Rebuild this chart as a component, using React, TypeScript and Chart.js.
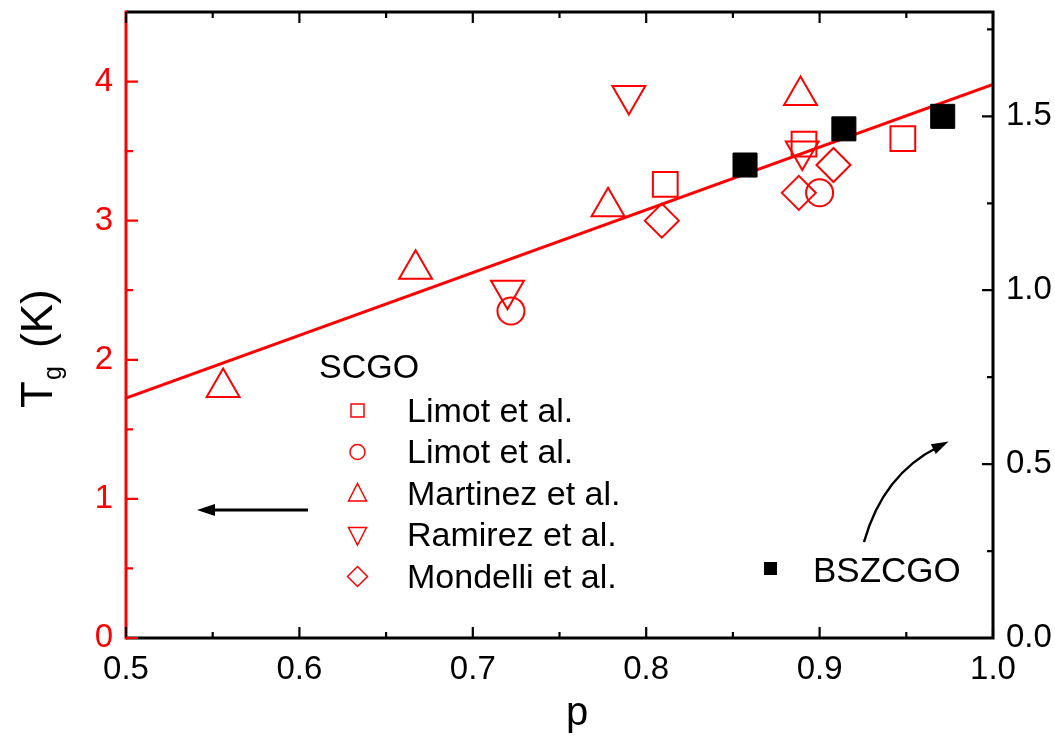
import React, { useEffect, useRef } from 'react';
import { Chart, registerables } from 'chart.js';
Chart.register(...registerables);

const FONT = '"Liberation Sans", Arial, Helvetica, sans-serif';
const RED = '#ff0000';

const xTicks = [0.5, 0.6, 0.7, 0.8, 0.9, 1.0];
const xMinorTicks = [0.55, 0.65, 0.75, 0.85, 0.95];
const leftTicks = [0, 1, 2, 3, 4];
const leftMinorTicks = [0.5, 1.5, 2.5, 3.5];
const rightTicks = [0, 0.5, 1.0, 1.5];
const rightMinorTicks = [0.25, 0.75, 1.25, 1.75];

const limotSquareP = [0.811, 0.891, 0.948];
const limotSquareT = [3.26, 3.55, 3.59];
const limotCircleP = [0.722, 0.9];
const limotCircleT = [2.35, 3.2];
const martinezP = [0.556, 0.667, 0.778, 0.889];
const martinezT = [1.8, 2.65, 3.1, 3.9];
const ramirezP = [0.72, 0.79, 0.89];
const ramirezT = [2.5, 3.9, 3.5];
const mondelliP = [0.809, 0.888, 0.908];
const mondelliT = [3.0, 3.2, 3.4];
const bszcgoP = [0.857, 0.914, 0.971];
const bszcgoT = [3.4, 3.66, 3.75];
const fitP = [0.5, 1.0];
const fitT = [1.724, 3.98];

const legendTitle = 'SCGO';
const legendLabels = ['Limot et al.', 'Limot et al.', 'Martinez et al.', 'Ramirez et al.', 'Mondelli et al.'];
const bszLabel = 'BSZCGO';

const pts = (xs: number[], ys: number[]) => xs.map((x, i) => ({ x, y: ys[i] }));

const decorPlugin = {
  id: 'decor',
  afterDraw(chart: any) {
    const ctx = chart.ctx;
    const { left, right, top, bottom } = chart.chartArea;
    const xs = chart.scales.x;
    const yl = chart.scales.y;
    const yr = chart.scales.y2;
    ctx.save();
    ctx.lineCap = 'butt';
    // frame
    ctx.lineWidth = 3;
    ctx.strokeStyle = '#000';
    ctx.beginPath();
    ctx.moveTo(left, bottom); ctx.lineTo(right + 1.5, bottom);
    ctx.moveTo(left, top); ctx.lineTo(right + 1.5, top);
    ctx.moveTo(right, top); ctx.lineTo(right, bottom + 1.5);
    ctx.stroke();
    ctx.strokeStyle = RED;
    ctx.beginPath();
    ctx.moveTo(left, top - 1.5); ctx.lineTo(left, bottom + 1.5);
    ctx.stroke();
    // x ticks (inward, top and bottom)
    ctx.lineWidth = 2.2;
    ctx.strokeStyle = '#000';
    ctx.beginPath();
    xTicks.forEach((v) => {
      const px = xs.getPixelForValue(v);
      ctx.moveTo(px, bottom); ctx.lineTo(px, bottom - 11);
      ctx.moveTo(px, top); ctx.lineTo(px, top + 11);
    });
    xMinorTicks.forEach((v) => {
      const px = xs.getPixelForValue(v);
      ctx.moveTo(px, bottom); ctx.lineTo(px, bottom - 6);
      ctx.moveTo(px, top); ctx.lineTo(px, top + 6);
    });
    rightTicks.forEach((v) => {
      const py = yr.getPixelForValue(v);
      ctx.moveTo(right, py); ctx.lineTo(right - 11, py);
    });
    rightMinorTicks.forEach((v) => {
      const py = yr.getPixelForValue(v);
      ctx.moveTo(right, py); ctx.lineTo(right - 6, py);
    });
    ctx.stroke();
    ctx.strokeStyle = RED;
    ctx.beginPath();
    leftTicks.forEach((v) => {
      const py = yl.getPixelForValue(v);
      ctx.moveTo(left, py); ctx.lineTo(left + 12, py);
    });
    leftMinorTicks.forEach((v) => {
      const py = yl.getPixelForValue(v);
      ctx.moveTo(left, py); ctx.lineTo(left + 7, py);
    });
    ctx.stroke();

    // axis titles
    ctx.fillStyle = '#000';
    ctx.textBaseline = 'alphabetic';
    ctx.textAlign = 'left';
    ctx.font = `40px ${FONT}`;
    ctx.fillText('p', 566, 725);
    ctx.save();
    ctx.translate(52, 408);
    ctx.rotate(-Math.PI / 2);
    ctx.font = `44px ${FONT}`;
    ctx.fillText('T', 0, 0);
    ctx.font = `25px ${FONT}`;
    ctx.fillText('g', 28, 9);
    ctx.font = `44px ${FONT}`;
    ctx.fillText('(K)', 60, 0);
    ctx.restore();

    // legend
    ctx.font = `34px ${FONT}`;
    ctx.fillStyle = '#000';
    ctx.fillText(legendTitle, 319, 378);
    const sx = 357.5;
    const rows = [421.5, 463, 504.5, 546, 587.5];
    ctx.strokeStyle = RED;
    ctx.lineWidth = 1.5;
    legendLabels.forEach((lab, i) => {
      const cy = rows[i] - 11;
      ctx.beginPath();
      if (i === 0) {
        ctx.rect(sx - 6.5, cy - 6.5, 13, 13);
      } else if (i === 1) {
        ctx.arc(sx, cy, 7.5, 0, Math.PI * 2);
      } else if (i === 2) {
        ctx.moveTo(sx, cy - 10); ctx.lineTo(sx + 9, cy + 7.5); ctx.lineTo(sx - 9, cy + 7.5); ctx.closePath();
      } else if (i === 3) {
        ctx.moveTo(sx, cy + 10); ctx.lineTo(sx + 9, cy - 7.5); ctx.lineTo(sx - 9, cy - 7.5); ctx.closePath();
      } else {
        ctx.moveTo(sx - 10, cy); ctx.lineTo(sx, cy - 10); ctx.lineTo(sx + 10, cy); ctx.lineTo(sx, cy + 10); ctx.closePath();
      }
      ctx.stroke();
      ctx.fillText(lab, 407, rows[i]);
    });
    // BSZCGO legend
    ctx.fillStyle = '#000';
    ctx.fillRect(764, 562, 13, 13);
    ctx.font = `35px ${FONT}`;
    ctx.fillText(bszLabel, 813, 581.5);

    // straight arrow
    ctx.strokeStyle = '#000';
    ctx.lineWidth = 3;
    ctx.beginPath();
    ctx.moveTo(308, 510); ctx.lineTo(210, 510);
    ctx.stroke();
    ctx.beginPath();
    ctx.moveTo(197, 510); ctx.lineTo(215, 504); ctx.lineTo(215, 516); ctx.closePath();
    ctx.fill();
    // curved arrow
    ctx.lineWidth = 2.5;
    ctx.beginPath();
    ctx.moveTo(864, 542);
    ctx.quadraticCurveTo(883, 474.5, 938, 447);
    ctx.stroke();
    const tx = 948.5, ty = 441.5;
    const ang = Math.atan2(-1, 2);
    const hl = 17, hw = 5.5;
    const bx = tx - Math.cos(ang) * hl, by = ty - Math.sin(ang) * hl;
    ctx.beginPath();
    ctx.moveTo(tx, ty);
    ctx.lineTo(bx + Math.sin(ang) * hw, by - Math.cos(ang) * hw);
    ctx.lineTo(bx - Math.sin(ang) * hw, by + Math.cos(ang) * hw);
    ctx.closePath();
    ctx.fill();
    ctx.restore();
  },
};

const zeroPad = (s: any) => {
  s.paddingTop = 0;
  s.paddingBottom = 0;
  s.paddingLeft = 0;
  s.paddingRight = 0;
};

export default function App() {
  const ref = useRef<HTMLCanvasElement | null>(null);
  useEffect(() => {
    if (!ref.current) return;
    const open = 'rgba(0,0,0,0)';
    const chart = new Chart(ref.current, {
      type: 'scatter',
      data: {
        datasets: [
          { label: 'BSZCGO', data: pts(bszcgoP, bszcgoT), pointStyle: 'rect', pointRadius: 17, backgroundColor: '#000', borderColor: '#000', borderWidth: 1 },
          { label: 'Limot sq', data: pts(limotSquareP, limotSquareT), pointStyle: 'rect', pointRadius: 17.5, backgroundColor: open, borderColor: RED, borderWidth: 2 },
          { label: 'Limot circ', data: pts(limotCircleP, limotCircleT), pointStyle: 'circle', pointRadius: 13.5, backgroundColor: open, borderColor: RED, borderWidth: 2 },
          { label: 'Martinez', data: pts(martinezP, martinezT), pointStyle: 'triangle', pointRadius: 19, backgroundColor: open, borderColor: RED, borderWidth: 2 },
          { label: 'Ramirez', data: pts(ramirezP, ramirezT), pointStyle: 'triangle', rotation: 180, pointRadius: 19, backgroundColor: open, borderColor: RED, borderWidth: 2 },
          { label: 'Mondelli', data: pts(mondelliP, mondelliT), pointStyle: 'rectRot', pointRadius: 17, backgroundColor: open, borderColor: RED, borderWidth: 2 },
          { type: 'line', label: 'fit', data: pts(fitP, fitT), borderColor: RED, borderWidth: 3, pointRadius: 0, fill: false, showLine: true },
        ] as any,
      },
      options: {
        animation: false,
        responsive: false,
        layout: { autoPadding: false, padding: { top: 12, left: 0, right: 0, bottom: 0 } },
        plugins: { legend: { display: false }, tooltip: { enabled: false } },
        scales: {
          x: {
            type: 'linear', min: 0.5, max: 1.0, position: 'bottom',
            afterBuildTicks: (s: any) => { s.ticks = xTicks.map((v) => ({ value: v })); },
            afterFit: (s: any) => { s.height = 100; zeroPad(s); },
            ticks: { callback: (v: any) => Number(v).toFixed(1), font: { size: 33, family: FONT }, color: '#000', padding: 12, maxRotation: 0, autoSkip: false },
            grid: { display: false, drawTicks: false },
            border: { display: false },
          },
          y: {
            type: 'linear', min: 0, max: 4.5, position: 'left',
            afterBuildTicks: (s: any) => { s.ticks = leftTicks.map((v) => ({ value: v })); },
            afterFit: (s: any) => { s.width = 126; zeroPad(s); },
            ticks: { callback: (v: any) => String(v), font: { size: 33, family: FONT }, color: RED, padding: 13, autoSkip: false },
            grid: { display: false, drawTicks: false },
            border: { display: false },
          },
          y2: {
            type: 'linear', min: 0, max: 1.8, position: 'right',
            afterBuildTicks: (s: any) => { s.ticks = rightTicks.map((v) => ({ value: v })); },
            afterFit: (s: any) => { s.width = 62; zeroPad(s); },
            ticks: { callback: (v: any) => Number(v).toFixed(1), font: { size: 33, family: FONT }, color: '#000', padding: 13, autoSkip: false },
            grid: { display: false, drawTicks: false },
            border: { display: false },
          },
        },
      } as any,
      plugins: [decorPlugin],
    });
    return () => chart.destroy();
  }, []);
  return (
    <div style={{ position: 'absolute', left: 0, top: 0, width: 1055, height: 738, background: '#fff' }}>
      <canvas ref={ref} width={1055} height={738} style={{ display: 'block' }} />
    </div>
  );
}
